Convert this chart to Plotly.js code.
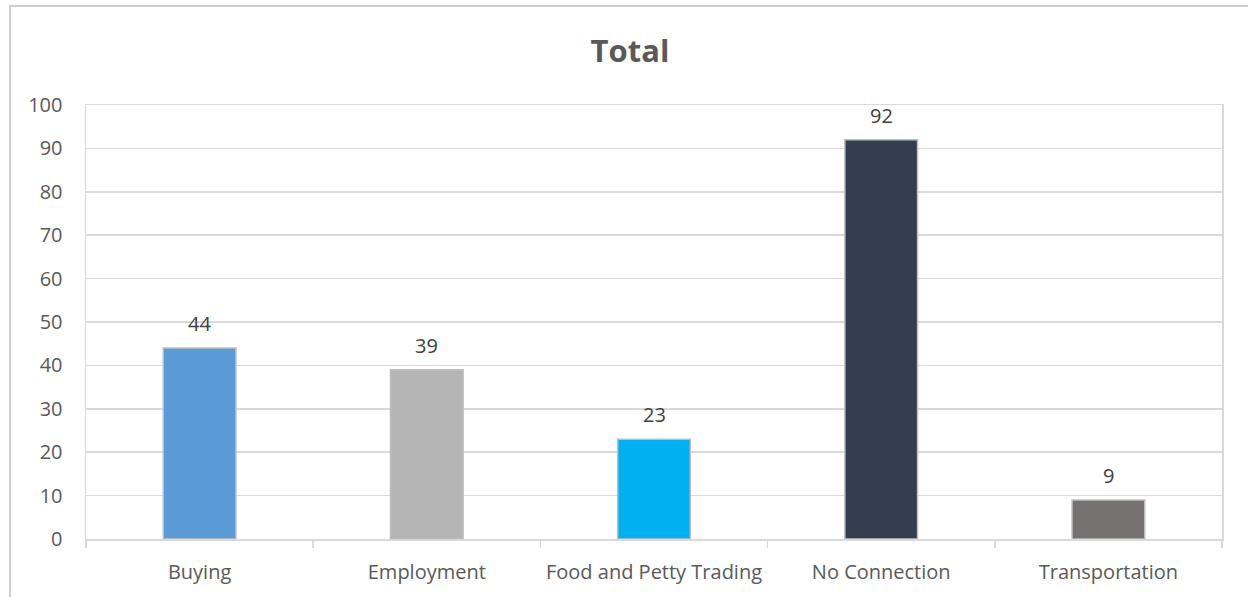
<!DOCTYPE html>
<html>
<head>
<meta charset="utf-8">
<script src="https://cdn.plot.ly/plotly-3.0.1.min.js"></script>
<style>
html,body{margin:0;padding:0;background:#fff;}
#chart{width:1248px;height:597px;}
</style>
</head>
<body>
<div id="chart"></div>
<script>
const categories = ["Buying", "Employment", "Food and Petty Trading", "No Connection", "Transportation"];
const values = [44, 39, 23, 92, 9];
const barColors = ["#5B9BD5", "#B4B4B4", "#00B0F0", "#333F50", "#767171"];
const yTicks = [0, 10, 20, 30, 40, 50, 60, 70, 80, 90, 100];

const FONT = "Open Sans, Noto Sans, DejaVu Sans, sans-serif";

const trace = {
  type: "bar",
  x: categories,
  y: values,
  width: 0.32,
  marker: {color: barColors, line: {color: "#BFBFBF", width: 1.5}},
  hoverinfo: "none"
};

const annotations = categories.map((c, i) => ({
  x: c, y: values[i], xref: "x", yref: "y",
  text: String(values[i]), showarrow: false,
  yanchor: "bottom", yshift: 9,
  font: {family: FONT, size: 20, color: "#404040"}
}));

const layout = {
  width: 1248, height: 597,
  margin: {l: 86, r: 26, t: 105, b: 58},
  paper_bgcolor: "#ffffff", plot_bgcolor: "#ffffff",
  showlegend: false,
  title: {text: "<b>Total</b>", x: 630 / 1248, xref: "container", xanchor: "center", y: 0.915, yanchor: "middle",
          font: {family: FONT, size: 31, color: "#595959"}},
  xaxis: {
    type: "category",
    showline: true, linecolor: "#D9D9D9", linewidth: 1.5, mirror: true,
    ticks: "outside", tickson: "boundaries", ticklen: 7, tickcolor: "#D9D9D9", tickwidth: 1.5,
    ticklabelstandoff: 14, tickangle: 0,
    tickfont: {family: FONT, size: 20, color: "#595959"},
    showgrid: false, zeroline: false, fixedrange: true
  },
  yaxis: {
    range: [0, 100], tickvals: yTicks, ticktext: yTicks.map(String),
    showline: true, linecolor: "#D9D9D9", linewidth: 1.5, mirror: true,
    showgrid: true, gridcolor: "#D9D9D9", gridwidth: 1.5,
    zeroline: false, ticks: "", ticklabelstandoff: 18,
    tickfont: {family: FONT, size: 20, color: "#595959"}, fixedrange: true
  },
  annotations: annotations,
  shapes: [{
    type: "rect", xref: "paper", yref: "paper",
    x0: (10 - 86) / 1136, x1: (1260 - 86) / 1136,
    y0: -0.3, y1: 1 + (105 - 6) / 434,
    line: {color: "#BFBFBF", width: 1.5}, fillcolor: "rgba(0,0,0,0)", layer: "below"
  }]
};

Plotly.newPlot("chart", [trace], layout, {staticPlot: true, displayModeBar: false});
</script>
</body>
</html>
